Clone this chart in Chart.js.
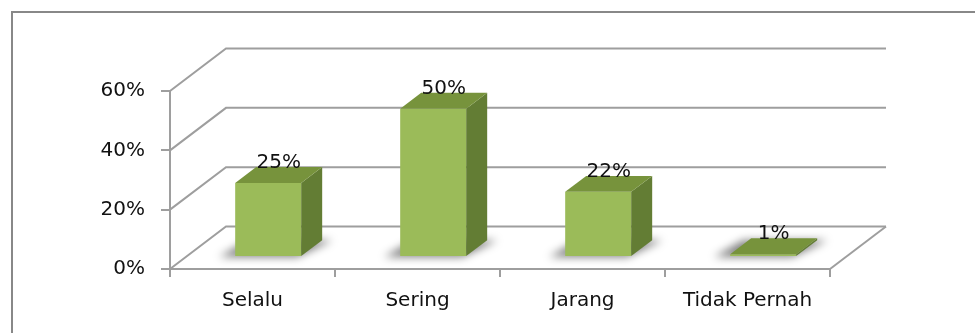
<!DOCTYPE html>
<html><head><meta charset="utf-8">
<script src="https://cdn.jsdelivr.net/npm/chart.js@4.4.1/dist/chart.umd.min.js"></script>
<style>html,body{margin:0;padding:0;background:#fff;} canvas{display:block;}</style>
</head><body>
<canvas id="c" width="975" height="333"></canvas>
<script>
const categories = ['Selalu', 'Sering', 'Jarang', 'Tidak Pernah'];
const values = [25, 50, 22, 1];
const valueLabels = ['25%', '50%', '22%', '1%'];
const yTicks = [0, 20, 40, 60];

const GRID = '#9e9e9e';
const FRONT = '#9BBB59';
const TOP = '#77933C';
const SIDE = '#637D34';
const TEXT = '#111111';
const FONT = '"DejaVu Sans", sans-serif';
const DEPTH = { dx: 56, dy: -42.5 };   // floor depth vector
const BAR_FRONT = 0.28;                // bar front plane, fraction of depth
const BAR_DEPTH = 0.375;               // bar depth, fraction of depth

const threeD = {
  id: 'threeD',
  beforeDraw(chart) {
    const ctx = chart.ctx;
    ctx.save();
    ctx.strokeStyle = '#888888';
    ctx.lineWidth = 2;
    ctx.strokeRect(12, 12, 2000, 2000);
    ctx.restore();
  },
  beforeDatasetsDraw(chart) {
    const { ctx, scales: { x, y }, chartArea: a } = chart;
    ctx.save();
    ctx.strokeStyle = GRID;
    ctx.lineWidth = 2;
    yTicks.forEach(v => {
      const py = y.getPixelForValue(v);
      ctx.beginPath();
      ctx.moveTo(a.left, py);
      ctx.lineTo(a.left + DEPTH.dx, py + DEPTH.dy);
      ctx.lineTo(a.right + DEPTH.dx, py + DEPTH.dy);
      ctx.stroke();
    });
    const p0 = y.getPixelForValue(0);
    ctx.beginPath();
    ctx.moveTo(a.right, p0);
    ctx.lineTo(a.right + DEPTH.dx, p0 + DEPTH.dy);
    ctx.stroke();

    const fx = DEPTH.dx * BAR_FRONT, fy = DEPTH.dy * BAR_FRONT;
    const bx = DEPTH.dx * BAR_DEPTH, by = DEPTH.dy * BAR_DEPTH;
    const meta = chart.getDatasetMeta(0);
    ctx.filter = 'blur(4px)';
    ctx.fillStyle = 'rgba(0,0,0,0.5)';
    meta.data.forEach(bar => {
      const l = bar.x - bar.width / 2 + fx, r = bar.x + bar.width / 2 + fx, b = bar.base + fy;
      ctx.beginPath();
      ctx.moveTo(l - 16, b + 1);
      ctx.lineTo(r - 4, b + 1);
      ctx.lineTo(r + bx + 10, b + by);
      ctx.lineTo(l + bx - 8, b + by);
      ctx.closePath();
      ctx.fill();
    });
    ctx.filter = 'none';
    ctx.restore();
    ctx.save();
    ctx.translate(fx, fy);
  },
  afterDatasetsDraw(chart) {
    const ctx = chart.ctx;
    ctx.restore();
    const fx = DEPTH.dx * BAR_FRONT, fy = DEPTH.dy * BAR_FRONT;
    const bx = DEPTH.dx * BAR_DEPTH, by = DEPTH.dy * BAR_DEPTH;
    const meta = chart.getDatasetMeta(0);
    ctx.save();
    meta.data.forEach((bar, i) => {
      const l = bar.x - bar.width / 2 + fx, r = bar.x + bar.width / 2 + fx;
      const t = bar.y + fy, b = bar.base + fy;
      ctx.fillStyle = SIDE;
      ctx.beginPath();
      ctx.moveTo(r, t); ctx.lineTo(r + bx, t + by); ctx.lineTo(r + bx, b + by); ctx.lineTo(r, b);
      ctx.closePath(); ctx.fill();
      ctx.fillStyle = TOP;
      ctx.beginPath();
      ctx.moveTo(l, t); ctx.lineTo(r, t); ctx.lineTo(r + bx, t + by); ctx.lineTo(l + bx, t + by);
      ctx.closePath(); ctx.fill();
      ctx.fillStyle = TEXT;
      ctx.font = '20px ' + FONT;
      ctx.textAlign = 'center';
      ctx.textBaseline = 'alphabetic';
      ctx.fillText(valueLabels[i], (l + r) / 2 + bx / 2, t + by + 1);
    });
    ctx.restore();
  }
};

new Chart(document.getElementById('c'), {
  type: 'bar',
  data: {
    labels: categories,
    datasets: [{
      data: values,
      backgroundColor: FRONT,
      borderWidth: 0,
      barPercentage: 0.4,
      categoryPercentage: 1.0
    }]
  },
  options: {
    responsive: false,
    animation: false,
    devicePixelRatio: 1,
    layout: { padding: { top: 91, right: 145, bottom: 0, left: 0 } },
    plugins: { legend: { display: false }, tooltip: { enabled: false } },
    scales: {
      x: {
        afterFit: s => { s.height = 64; },
        grid: { offset: true, drawOnChartArea: false, drawTicks: true, tickLength: 8, color: GRID, lineWidth: 2 },
        border: { display: true, color: GRID, width: 2 },
        ticks: { font: { family: FONT, size: 20 }, color: TEXT, padding: 12, maxRotation: 0, autoSkip: false }
      },
      y: {
        min: 0, max: 60,
        afterFit: s => { s.width = 170; },
        afterBuildTicks: s => { s.ticks = yTicks.map(v => ({ value: v })); },
        grid: { drawOnChartArea: false, drawTicks: true, tickLength: 9, color: GRID, lineWidth: 2 },
        border: { display: true, color: GRID, width: 2 },
        ticks: { font: { family: FONT, size: 20 }, color: TEXT, padding: 16, callback: v => v + '%' }
      }
    }
  },
  plugins: [threeD]
});
</script>
</body></html>
